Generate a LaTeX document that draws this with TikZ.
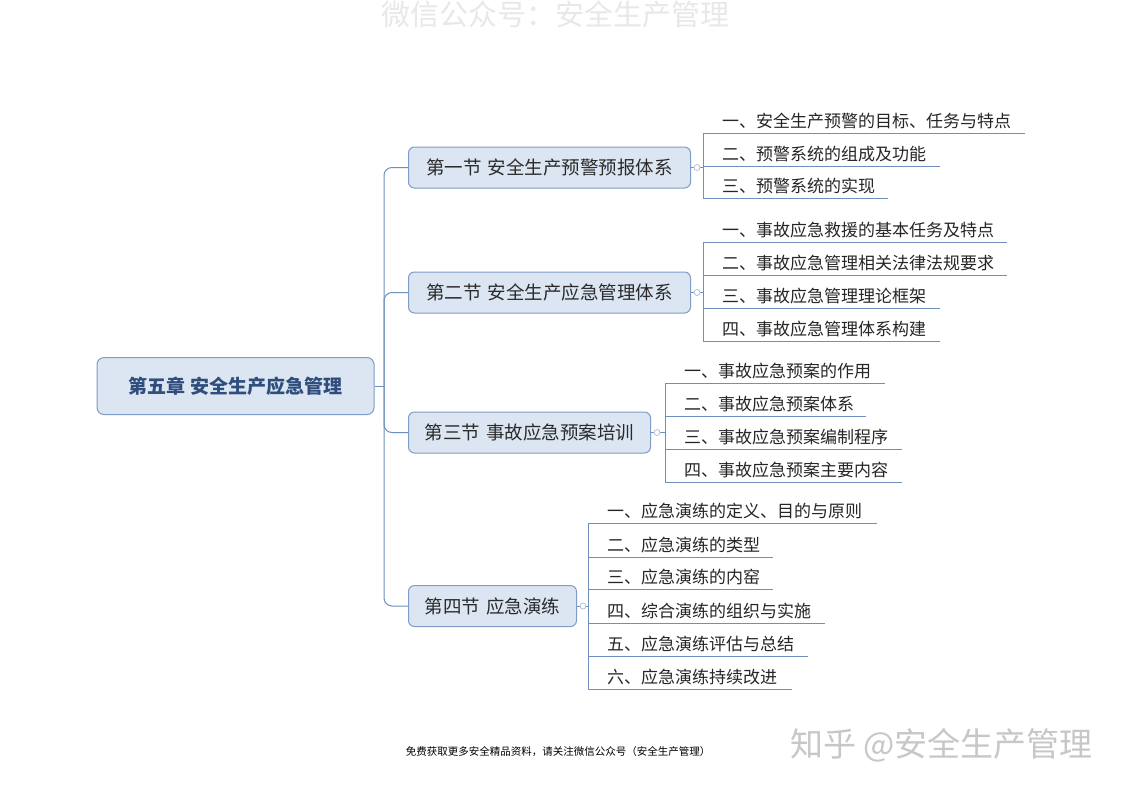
\documentclass[tikz,border=0pt]{standalone}
\usepackage{fontspec}
\setmainfont{Noto Sans CJK SC}
\definecolor{linec}{HTML}{6F8FBF}
\definecolor{nodefill}{HTML}{DCE6F2}
\definecolor{nodeborder}{HTML}{7F9DC6}
\definecolor{roottext}{HTML}{2F4E7E}
\definecolor{sectext}{HTML}{2A2A2A}
\tikzset{
  rootbox/.style={draw=nodeborder, fill=nodefill, rounded corners=7pt, line width=1pt,
    minimum width=277pt, minimum height=57pt, inner sep=0pt,
    font=\fontsize{19}{19}\selectfont\bfseries, text=roottext},
  secbox/.style={draw=nodeborder, fill=nodefill, rounded corners=6pt, line width=1pt,
    minimum height=41pt, inner sep=0pt, anchor=west,
    font=\fontsize{18.5}{18.5}\selectfont, text=sectext},
  leaf/.style={anchor=base west, inner sep=0pt, font=\fontsize{17}{17}\selectfont, text=black!85},
  conn/.style={draw=linec, line width=1pt},
  knob/.style={circle, draw=linec!60, fill=white, inner sep=0pt, minimum size=6pt, line width=0.7pt}
}
\begin{document}
\begin{tikzpicture}[x=1pt,y=-1pt]
\useasboundingbox (0,0) rectangle (1122,793);
\fill[white] (0,0) rectangle (1122,793);
\node[text=black!9, font=\fontsize{29}{29}\selectfont, inner sep=0pt] (top) at (555,14) {微信公众号：安全生产管理};

% root
\node[rootbox] (root) at (235.5,386) {第五章 安全生产应急管理};
% sections
\node[secbox, minimum width=282pt] (s1) at (408,167.5) {第一节\hspace{0.3em}安全生产预警预报体系};
\node[secbox, minimum width=282pt] (s2) at (408,292.5) {第二节\hspace{0.3em}安全生产应急管理体系};
\node[secbox, minimum width=242pt] (s3) at (408,432.5) {第三节\hspace{0.3em}事故应急预案培训};
\node[secbox, minimum width=168pt] (s4) at (408,606) {第四节\hspace{0.3em}应急演练};

% trunk
\coordinate (tr) at (384,386);
\draw[conn] (root.east) -- (tr);
\draw[conn, rounded corners=8pt] (s1.west) -| (tr) |- (s4.west);
\draw[conn, rounded corners=8pt] (s2.west) -| (tr);
\draw[conn, rounded corners=8pt] (s3.west) -| (tr);

% section 1 leaves
\foreach \y/\e/\t [count=\n] in {133/1025/一、安全生产预警的目标、任务与特点, 166/940/二、预警系统的组成及功能, 198/888/三、预警系统的实现}{
  \coordinate (u1-\n) at (703,\y);
  \coordinate (v1-\n) at (\e,\y);
  \draw[conn] (u1-\n) -- (v1-\n);
  \node[leaf] (l1-\n) at (722,\y-6) {\t};
}
\draw[conn] (u1-1) -- (u1-3);
\draw[conn] (s1.east) -- (s1.east -| u1-1);
\node[knob] (k1) at ([xshift=6pt]s1.east) {};

% section 2 leaves
\foreach \y/\e/\t [count=\n] in {242/1007/一、事故应急救援的基本任务及特点, 275/1007/二、事故应急管理相关法律法规要求, 308/940/三、事故应急管理理论框架, 341/940/四、事故应急管理体系构建}{
  \coordinate (u2-\n) at (703,\y);
  \coordinate (v2-\n) at (\e,\y);
  \draw[conn] (u2-\n) -- (v2-\n);
  \node[leaf] (l2-\n) at (722,\y-6) {\t};
}
\draw[conn] (u2-1) -- (u2-4);
\draw[conn] (s2.east) -- (s2.east -| u2-1);
\node[knob] (k2) at ([xshift=6pt]s2.east) {};

% section 3 leaves
\foreach \y/\e/\t [count=\n] in {383/885/一、事故应急预案的作用, 416/866/二、事故应急预案体系, 449/902/三、事故应急预案编制程序, 482/902/四、事故应急预案主要内容}{
  \coordinate (u3-\n) at (665,\y);
  \coordinate (v3-\n) at (\e,\y);
  \draw[conn] (u3-\n) -- (v3-\n);
  \node[leaf] (l3-\n) at (684,\y-6) {\t};
}
\draw[conn] (u3-1) -- (u3-4);
\draw[conn] (s3.east) -- (s3.east -| u3-1);
\node[knob] (k3) at ([xshift=6pt]s3.east) {};

% section 4 leaves
\foreach \y/\e/\t [count=\n] in {523/877/一、应急演练的定义、目的与原则, 557/773/二、应急演练的类型, 589/773/三、应急演练的内窑, 623/825/四、综合演练的组织与实施, 656/808/五、应急演练评估与总结, 689/792/六、应急演练持续改进}{
  \coordinate (u4-\n) at (588,\y);
  \coordinate (v4-\n) at (\e,\y);
  \draw[conn] (u4-\n) -- (v4-\n);
  \node[leaf] (l4-\n) at (607,\y-6) {\t};
}
\draw[conn] (u4-1) -- (u4-6);
\draw[conn] (s4.east) -- (s4.east -| u4-1);
\node[knob] (k4) at ([xshift=6pt]s4.east) {};

% footer
\node[font=\fontsize{10.5}{10.5}\selectfont, text=black, inner sep=0pt] (foot) at (558,752) {免费获取更多安全精品资料，请关注微信公众号（安全生产管理）};
\node[font=\fontsize{33}{33}\selectfont, text=black!22, inner sep=0pt, anchor=west] (zh) at (790,745) {知乎 @安全生产管理};
\end{tikzpicture}
\end{document}
